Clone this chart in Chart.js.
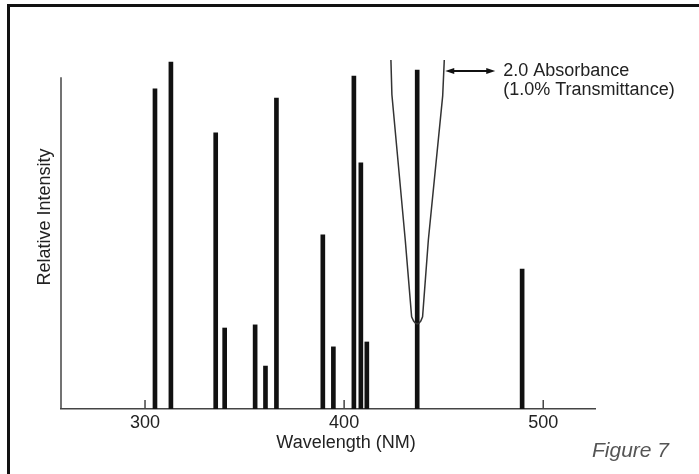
<!DOCTYPE html>
<html>
<head>
<meta charset="utf-8">
<script src="https://cdn.jsdelivr.net/npm/chart.js@4.4.1/dist/chart.umd.min.js"></script>
<style>
  body { margin: 0; background: #fff; }
  #wrap { position: relative; width: 699px; height: 474px; overflow: hidden; }
  #frame { position: absolute; left: 7px; top: 4px; width: 720px; height: 500px; border-left: 3px solid #111; border-top: 3px solid #111; }
  canvas { position: absolute; left: 0; top: 0; }
</style>
</head>
<body>
<div id="wrap">
  <div id="frame"></div>
  <canvas id="myChart" width="699" height="474"></canvas>
</div>
<script>
// emission lines (nm) and their relative intensity
const wavelengths = [305, 313, 335.5, 340, 355.3, 360.5, 366, 389.3, 394.6, 404.9, 408.4, 411.4, 436.7, 489.4]
const intensities = [91.7, 99.4, 79.1, 23.2, 24.1, 12.3, 89.1, 49.9, 17.8, 95.4, 70.5, 19.2, 97.1, 40.1]
// filter curve (the V around 437 nm)
const filterX = [423.5, 424, 430.7, 433.9, 434.9, 435.8, 436.7, 437.6, 438.5, 439.4, 442.3, 449.5, 450.3]
const filterY = [100, 90, 48.4, 26.4, 25.2, 24.6, 24.4, 24.6, 25.2, 26.4, 48.4, 89.7, 100]
const xTicks = [300, 400, 500]
const xRange = [257.8, 526]
const yRange = [0, 110]
const yAxisTop = 95
const arrowY = 96.8
const arrowEnd = 475.9
const xTitle = 'Wavelength (NM)'
const yTitle = 'Relative Intensity'
const noteLines = ['2.0 Absorbance', '(1.0% Transmittance)']
const figureLabel = 'Figure 7'

const fontFamily = '"Liberation Sans", Arial, Helvetica, sans-serif'

const arrowHead = function (ctx, tipX, tipY, dir) {
  ctx.beginPath()
  ctx.moveTo(tipX, tipY)
  ctx.lineTo(tipX - dir * 9, tipY - 3)
  ctx.lineTo(tipX - dir * 9, tipY + 3)
  ctx.closePath()
  ctx.fill()
}

const extras = {
  id: 'extras',
  afterDraw (chart) {
    const ctx = chart.ctx
    const x = chart.scales.x
    const y = chart.scales.y
    const area = chart.chartArea
    ctx.save()
    ctx.strokeStyle = '#444'
    ctx.fillStyle = '#222'
    ctx.lineWidth = 1.5
    // y axis
    ctx.beginPath()
    ctx.moveTo(area.left, y.getPixelForValue(0))
    ctx.lineTo(area.left, y.getPixelForValue(yAxisTop))
    ctx.stroke()
    // tick marks, drawn inward
    xTicks.forEach((v) => {
      const px = x.getPixelForValue(v)
      ctx.beginPath()
      ctx.moveTo(px, area.bottom)
      ctx.lineTo(px, area.bottom - 9)
      ctx.stroke()
    })
    // double arrow next to the filter curve
    const ay = y.getPixelForValue(arrowY)
    const ax0 = x.getPixelForValue(filterX[filterX.length - 1]) + 1
    const ax1 = x.getPixelForValue(arrowEnd)
    ctx.strokeStyle = '#111'
    ctx.fillStyle = '#111'
    ctx.lineWidth = 2
    ctx.beginPath()
    ctx.moveTo(ax0 + 4, ay)
    ctx.lineTo(ax1 - 4, ay)
    ctx.stroke()
    arrowHead(ctx, ax0, ay, -1)
    arrowHead(ctx, ax1, ay, 1)

    ctx.fillStyle = '#222'
    ctx.font = '18px ' + fontFamily
    ctx.textBaseline = 'middle'
    ctx.textAlign = 'left'
    ctx.fillText(noteLines[0], ax1 + 8, ay)
    ctx.fillText(noteLines[1], ax1 + 8, ay + 19)

    // axis titles
    ctx.textAlign = 'center'
    ctx.fillText(xTitle, (area.left + area.right) / 2 + 18, area.bottom + 34)
    ctx.save()
    ctx.translate(area.left - 16, (area.top + area.bottom) / 2)
    ctx.rotate(-Math.PI / 2)
    ctx.fillText(yTitle, 0, 0)
    ctx.restore()

    ctx.fillStyle = '#555'
    ctx.font = 'italic 21px ' + fontFamily
    ctx.textAlign = 'left'
    ctx.fillText(figureLabel, area.right - 3, area.bottom + 42)
    ctx.restore()
  }
}

const ctx = document.getElementById('myChart').getContext('2d')
const chart = new Chart(ctx, {
  data: {
    datasets: [{
      type: 'line',
      data: filterX.map((v, i) => ({ x: v, y: filterY[i] })),
      borderColor: '#333',
      borderWidth: 1.5,
      pointRadius: 0,
      tension: 0,
      fill: false
    }, {
      type: 'bar',
      data: wavelengths.map((w, i) => ({ x: w, y: intensities[i] })),
      backgroundColor: '#111',
      barThickness: 4
    }]
  },
  options: {
    responsive: false,
    animation: false,
    layout: { padding: { left: 61, top: 25, right: 104, bottom: 0 } },
    plugins: { legend: { display: false }, tooltip: { enabled: false } },
    scales: {
      x: {
        type: 'linear',
        min: xRange[0],
        max: xRange[1],
        offset: false,
        afterBuildTicks: (s) => { s.ticks = xTicks.map((v) => ({ value: v })) },
        afterFit: (s) => { s.height = 65 },
        grid: { drawOnChartArea: false, drawTicks: false },
        border: { color: '#444', width: 1.5 },
        ticks: { padding: 3, color: '#222', font: { family: fontFamily, size: 18 } }
      },
      y: { display: false, min: yRange[0], max: yRange[1] }
    }
  },
  plugins: [extras]
})
</script>
</body>
</html>
